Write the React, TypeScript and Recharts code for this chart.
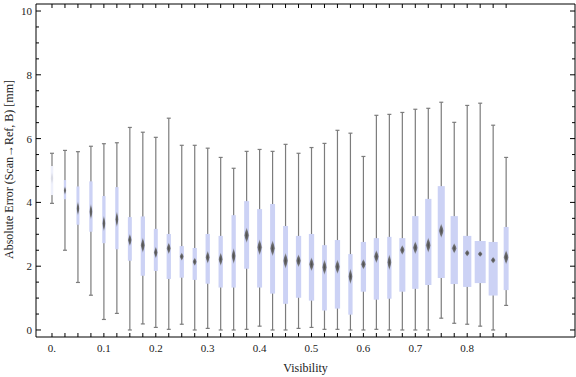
import React from "react";
import { ComposedChart, Bar, XAxis, YAxis } from "recharts";

// visibility bins (box centres)
const visibility = [
	0, 0.025, 0.05, 0.075, 0.1, 0.125, 0.15, 0.175, 0.2, 0.225, 0.25, 0.275,
	0.3, 0.325, 0.35, 0.375, 0.4, 0.425, 0.45, 0.475, 0.5, 0.525, 0.55, 0.575,
	0.6, 0.625, 0.65, 0.675, 0.7, 0.725, 0.75, 0.775, 0.8, 0.825, 0.85, 0.875,
];

// five-number summaries of the absolute error [mm]
const errMin = [
	3.97, 2.5, 1.49, 1.09, 0.33, 0.52, 0.0, 0.19, 0.08, 0.02, 0.18, 0.0, 0.05,
	0.0, 0.0, 0.02, 0.12, 0.0, 0.0, 0.05, 0.08, 0.02, 0.02, 0.0, 0.0, 0.02, 0.0,
	0.0, 0.0, 0.0, 0.37, 0.21, 0.18, 0.12, 0.0, 0.77,
];
const errQ1 = [
	4.23, 4.1, 3.3, 3.08, 2.72, 2.53, 2.17, 1.7, 1.85, 1.6, 1.64, 1.57, 1.45,
	1.33, 1.33, 1.92, 1.33, 1.14, 0.82, 1.01, 0.92, 0.61, 0.67, 0.48, 1.2, 0.95,
	0.98, 1.2, 1.29, 1.41, 1.63, 1.44, 1.35, 1.47, 1.08, 1.25,
];
const errMedian = [
	4.76, 4.37, 3.81, 3.71, 3.34, 3.47, 2.82, 2.66, 2.43, 2.56, 2.3, 2.14, 2.28,
	2.22, 2.32, 2.97, 2.59, 2.56, 2.17, 2.17, 2.06, 1.97, 1.98, 1.68, 2.06, 2.3,
	2.12, 2.51, 2.58, 2.66, 3.11, 2.56, 2.41, 2.38, 2.19, 2.28,
];
const errQ3 = [
	5.14, 4.7, 4.5, 4.66, 4.2, 4.48, 3.54, 3.56, 3.17, 3.01, 2.63, 2.57, 3.01,
	2.95, 3.6, 4.04, 3.79, 3.95, 3.26, 2.95, 3.01, 2.66, 2.82, 2.38, 2.76, 2.88,
	2.92, 2.88, 3.57, 4.11, 4.51, 3.57, 2.95, 2.79, 2.76, 3.23,
];
const errMax = [
	5.54, 5.63, 5.59, 5.76, 5.84, 5.87, 6.35, 6.2, 6.04, 6.64, 5.79, 5.79, 5.7,
	5.41, 5.07, 5.6, 5.66, 5.6, 5.82, 5.54, 5.72, 5.85, 6.26, 6.17, 5.44, 6.73,
	6.76, 6.82, 6.92, 6.95, 7.14, 6.51, 7.04, 7.11, 6.42, 5.41,
];
// relative group size (box width share)
const groupSize = [
	0.23, 0.21, 0.27, 0.3, 0.3, 0.3, 0.36, 0.39, 0.36, 0.39, 0.39, 0.39, 0.39,
	0.39, 0.39, 0.45, 0.45, 0.45, 0.45, 0.48, 0.48, 0.43, 0.48, 0.39, 0.48, 0.48,
	0.39, 0.55, 0.57, 0.57, 0.64, 0.66, 0.75, 1.0, 0.82, 0.45,
];

const yTicks = Array.from({ length: 21 }, (_, i) => i * 0.5);

const rows = visibility.map((v, i) => ({
	v,
	min: errMin[i],
	q1: errQ1[i],
	med: errMedian[i],
	q3: errQ3[i],
	max: errMax[i],
	size: groupSize[i],
}));

const FONT = "'Liberation Serif', 'DejaVu Serif', serif";
const BOX_FILL = "#ccd2f5";
const WHISKER = "#7c7c7c";

// draws whisker, box and median diamond; y positions come from the bar's own [min,max] range
const BoxShape = (props: any) => {
	const { x, y, width, height, payload, index } = props;
	if (!payload) return null;
	const top = Math.min(y, y + height);
	const h = Math.abs(height);
	const k = h / (payload.max - payload.min);
	const py = (val: number) => top + (payload.max - val) * k;
	const cx = x + width / 2;
	const bw = width * payload.size;
	const faint = index === 0;
	const yq1 = py(payload.q1);
	const yq3 = py(payload.q3);
	const ym = py(payload.med);
	const hh = Math.max(3, Math.min(8, (0.56 * (yq1 - yq3)) / bw));
	const hw = Math.min(2.5, bw * 0.5);
	return (
		<g>
			<defs>
				<radialGradient id="medGrad" cx="50%" cy="50%" r="50%">
					<stop offset="0%" stopColor="#4a4a4a" stopOpacity={1} />
					<stop offset="65%" stopColor="#6a6a6a" stopOpacity={0.9} />
					<stop offset="100%" stopColor="#909090" stopOpacity={0.45} />
				</radialGradient>
			</defs>
			<line x1={cx} x2={cx} y1={top} y2={top + h} stroke={WHISKER} strokeWidth={1.2} />
			<line x1={cx - 2} x2={cx + 2} y1={top} y2={top} stroke={WHISKER} strokeWidth={1.2} />
			<line x1={cx - 2} x2={cx + 2} y1={top + h} y2={top + h} stroke={WHISKER} strokeWidth={1.2} />
			<rect
				x={cx - bw / 2}
				y={yq3}
				width={bw}
				height={yq1 - yq3}
				fill={faint ? "#eef0fb" : BOX_FILL}
			/>
			<polygon
				points={`${cx},${ym - hh} ${cx + hw},${ym} ${cx},${ym + hh} ${cx - hw},${ym}`}
				fill="url(#medGrad)"
				fillOpacity={faint ? 0.15 : 1}
			/>
		</g>
	);
};

const BottomTick = (props: any) => {
	const { x, y, payload } = props;
	const step = Math.round(payload.value * 40);
	const label = step % 4 === 0 ? (step === 0 ? "0." : payload.value.toFixed(1)) : "";
	return (
		<g>
			<line x1={x} x2={x} y1={y} y2={y - 4} stroke="#000" />
			{label && (
				<text x={x} y={y + 15} textAnchor="middle" fontSize={11} fontFamily={FONT} fill="#222">
					{label}
				</text>
			)}
		</g>
	);
};

const TopTick = (props: any) => {
	const { x, y } = props;
	return <line x1={x} x2={x} y1={y} y2={y + 4} stroke="#000" />;
};

const LeftTick = (props: any) => {
	const { x, y, payload } = props;
	const major = payload.value % 2 === 0;
	return (
		<g>
			<line x1={x} x2={x + (major ? 5 : 3)} y1={y} y2={y} stroke="#000" />
			{major && (
				<text x={x - 4} y={y + 4} textAnchor="end" fontSize={11} fontFamily={FONT} fill="#222">
					{payload.value}
				</text>
			)}
		</g>
	);
};

const RightTick = (props: any) => {
	const { x, y, payload } = props;
	const major = payload.value % 2 === 0;
	return <line x1={x} x2={x - (major ? 5 : 3)} y1={y} y2={y} stroke="#000" />;
};

const App = () => {
	return (
		<div style={{ position: "absolute", left: 0, top: 0 }}>
			<ComposedChart
				width={576}
				height={377}
				data={rows}
				margin={{ top: 3, right: 0, bottom: 0, left: 0 }}>
				<XAxis
					dataKey="v"
					type="number"
					domain={[-0.0308, 1.0077]}
					allowDataOverflow
					ticks={visibility}
					interval={0}
					height={40}
					tickSize={0}
					tickMargin={0}
					tickLine={false}
					tick={BottomTick}
					axisLine={{ stroke: "#000" }}
					label={(p: any) => {
						const vb = p.viewBox;
						return (
							<text
								x={vb.x + vb.width / 2}
								y={372}
								textAnchor="middle"
								fontSize={12}
								fontFamily={FONT}
								fill="#222">
								Visibility
							</text>
						);
					}}
				/>
				<XAxis
					xAxisId="top"
					dataKey="v"
					orientation="top"
					type="number"
					domain={[-0.0308, 1.0077]}
					allowDataOverflow
					ticks={visibility}
					interval={0}
					height={1}
					tickSize={0}
					tickMargin={0}
					tickLine={false}
					tick={TopTick}
					axisLine={{ stroke: "#000" }}
				/>
				<YAxis
					type="number"
					domain={[-0.22, 10.22]}
					allowDataOverflow
					ticks={yTicks}
					interval={0}
					width={36}
					tickSize={0}
					tickMargin={0}
					tickLine={false}
					tick={LeftTick}
					axisLine={{ stroke: "#000" }}
					label={(p: any) => {
						const vb = p.viewBox;
						const cy = vb.y + vb.height / 2 - 1;
						return (
							<text
								x={13}
								y={cy}
								transform={`rotate(-90 13 ${cy})`}
								textAnchor="middle"
								fontSize={12}
								fontFamily={FONT}
								fill="#222">
								Absolute Error (Scan→Ref, B) [mm]
							</text>
						);
					}}
				/>
				<YAxis
					yAxisId="right"
					orientation="right"
					type="number"
					domain={[-0.22, 10.22]}
					allowDataOverflow
					ticks={yTicks}
					interval={0}
					width={1}
					tickSize={0}
					tickMargin={0}
					tickLine={false}
					tick={RightTick}
					axisLine={{ stroke: "#000" }}
				/>
				<Bar
					dataKey={(d: any) => [d.min, d.max]}
					barSize={11}
					shape={BoxShape}
					isAnimationActive={false}
				/>
			</ComposedChart>
		</div>
	);
};

export default App;
